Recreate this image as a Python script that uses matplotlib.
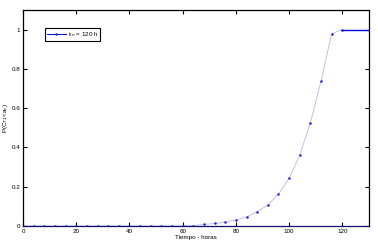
import numpy as np
import matplotlib
matplotlib.use('Agg')
import matplotlib.pyplot as plt

# Probability curve sampled every 4 hours
hours = [0, 4, 8, 12, 16, 20, 24, 28, 32, 36, 40, 44, 48, 52, 56, 60, 64,
         68, 72, 76, 80, 84, 88, 92, 96, 100, 104, 108, 112, 116, 120]
prob = [0, 0, 0, 0, 0, 0, 0, 0, 0, 0, 0, 0, 0, 0, 0, 0, 0.002,
        0.008, 0.013, 0.02, 0.031, 0.046, 0.073, 0.107, 0.162, 0.243,
        0.361, 0.526, 0.737, 0.979, 1.0]
# Flat tail after t_in
tail_hours = [120, 130]
tail_prob = [1.0, 1.0]

xticks = [0, 20, 40, 60, 80, 100, 120]
yticks = [0, 0.2, 0.4, 0.6, 0.8, 1]

plt.rcParams['font.family'] = ['Liberation Sans', 'DejaVu Sans']

fig = plt.figure(figsize=(3.78, 2.47), dpi=100)
ax = fig.add_axes([0.061, 0.085, 0.915, 0.875])

ax.plot(hours, prob, color='#c0c0f2', linewidth=0.7, marker='.',
        markersize=1.6, markerfacecolor='#2020d8', markeredgecolor='#2020d8',
        label='t$_{in}$ = 120 h')
ax.plot(tail_hours, tail_prob, color='#0000e0', linewidth=1.0)

ax.set_xlim(0, 130)
ax.set_ylim(0, 1.1)
ax.set_xticks(xticks)
ax.set_yticks(yticks)
ax.set_xticklabels([str(v) for v in xticks])
ax.set_yticklabels(['0', '0.2', '0.4', '0.6', '0.8', '1'])
ax.tick_params(direction='in', top=True, right=True, labelsize=4.5,
               length=3, width=0.8, pad=2)
for s in ax.spines.values():
    s.set_linewidth(0.9)
ax.spines['bottom'].set_color('#10106a')

ax.set_xlabel('Tiempo - horas', fontsize=4.5, labelpad=1)
ax.set_ylabel('P(C$_{T1}$<a$_c$)', fontsize=4.5, labelpad=1)

leg = ax.legend(loc='upper left', bbox_to_anchor=(0.055, 0.93), fontsize=4.5,
                fancybox=False, edgecolor='black', framealpha=1,
                handlelength=3.0, borderpad=0.3, handletextpad=0.3)
leg.get_frame().set_linewidth(0.8)
leg.get_lines()[0].set_color('#0000e0')

fig.savefig('out.png', dpi=100)
